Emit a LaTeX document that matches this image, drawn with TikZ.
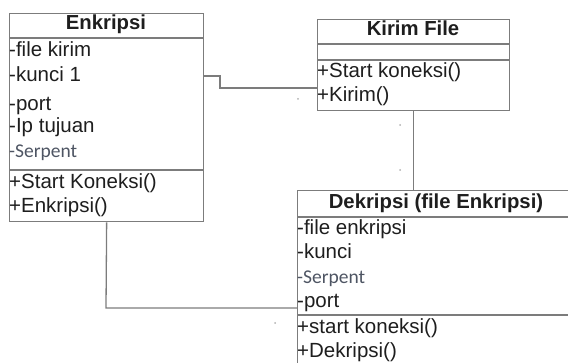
\documentclass[tikz,border=0pt]{standalone}
\usepackage{fontspec}
\setmainfont{Liberation Sans}
\newfontfamily\calfont{Carlito}
\definecolor{rule}{HTML}{7C7C7C}
\definecolor{ink}{HTML}{1E1E1E}
\definecolor{serp}{HTML}{4E5563}
\begin{document}
\begin{tikzpicture}[x=1pt,y=-1pt,
  classbox/.style={draw=rule,line width=1.3pt,rectangle,inner sep=0pt,anchor=north west},
  divider/.style={draw=rule,line width=1.3pt},
  link/.style={draw=rule,line width=1.3pt},
  member/.style={anchor=west,inner sep=0pt,text=ink,font=\fontsize{20.5}{24}\selectfont,text height=0.72em,text depth=0pt},
  serpent/.style={member,text=serp,font=\calfont\fontsize{19.5}{22}\selectfont},
  title/.style={inner sep=0pt,text=ink,font=\bfseries\fontsize{20.3}{24}\selectfont,text height=0.72em,text depth=0pt},
  speck/.style={fill=rule!60,draw=none,circle,inner sep=0pt,minimum size=2pt}]
\useasboundingbox (0,0) rectangle (568,363);

% class boxes
\node[classbox,minimum width=194pt,minimum height=208pt] (enk) at (9,13) {};
\node[classbox,minimum width=192pt,minimum height=91pt] (kir) at (317,19) {};
\node[classbox,minimum width=280pt,minimum height=190pt] (dek) at (297,190) {};

% compartment lines
\draw[divider] (enk.north west |- 0,38) -- (enk.north east |- 0,38);
\draw[divider] (enk.north west |- 0,170) -- (enk.north east |- 0,170);
\draw[divider] (kir.north west |- 0,44) -- (kir.north east |- 0,44);
\draw[divider] (kir.north west |- 0,60) -- (kir.north east |- 0,60);
\draw[divider] (dek.north west |- 0,217) -- (dek.north east |- 0,217);
\draw[divider] (dek.north west |- 0,315) -- (dek.north east |- 0,315);

% Enkripsi
\node[title] (enkT) at (106,26) {Enkripsi};
\node[member] (e1) at (9,53) {-file kirim};
\node[member] (e2) at (9,78) {-kunci 1};
\node[member] (e3) at (9,107) {-port};
\node[member] (e4) at (9,129) {-Ip tujuan};
\node[serpent] (e5) at (9,154) {-Serpent};
\node[member] (e6) at (9,185) {+Start Koneksi()};
\node[member] (e7) at (9,209) {+Enkripsi()};

% Kirim File
\node[title] (kirT) at (413,32) {Kirim File};
\node[member] (k1) at (317,74) {+Start koneksi()};
\node[member] (k2) at (317,98) {+Kirim()};

% Dekripsi
\node[title] (dekT) at (436,205) {Dekripsi (file Enkripsi)};
\node[member] (d1) at (297,231) {-file enkripsi};
\node[member] (d2) at (297,255) {-kunci};
\node[serpent] (d3) at (297,280) {-Serpent};
\node[member] (d4) at (297,304) {-port};
\node[member] (d5) at (297,330) {+start koneksi()};
\node[member] (d6) at (297,354) {+Dekripsi()};

% associations
\coordinate (ja) at (220,76);
\coordinate (jb) at (220,88);
\coordinate (jc) at (106,308);
\draw[link] (enk.east |- ja) -- (ja) -- (jb) -- (kir.west |- jb);
\draw[link] (kir.south) -- (kir.south |- dek.north);
\draw[link] (enk.south) -- (jc) -- (dek.west |- jc);

% stray specks
\node[speck] (s1) at (298,99) {};
\node[speck] (s2) at (400,125) {};
\node[speck] (s3) at (400,170) {};
\node[speck] (s4) at (275,323) {};
\end{tikzpicture}
\end{document}
